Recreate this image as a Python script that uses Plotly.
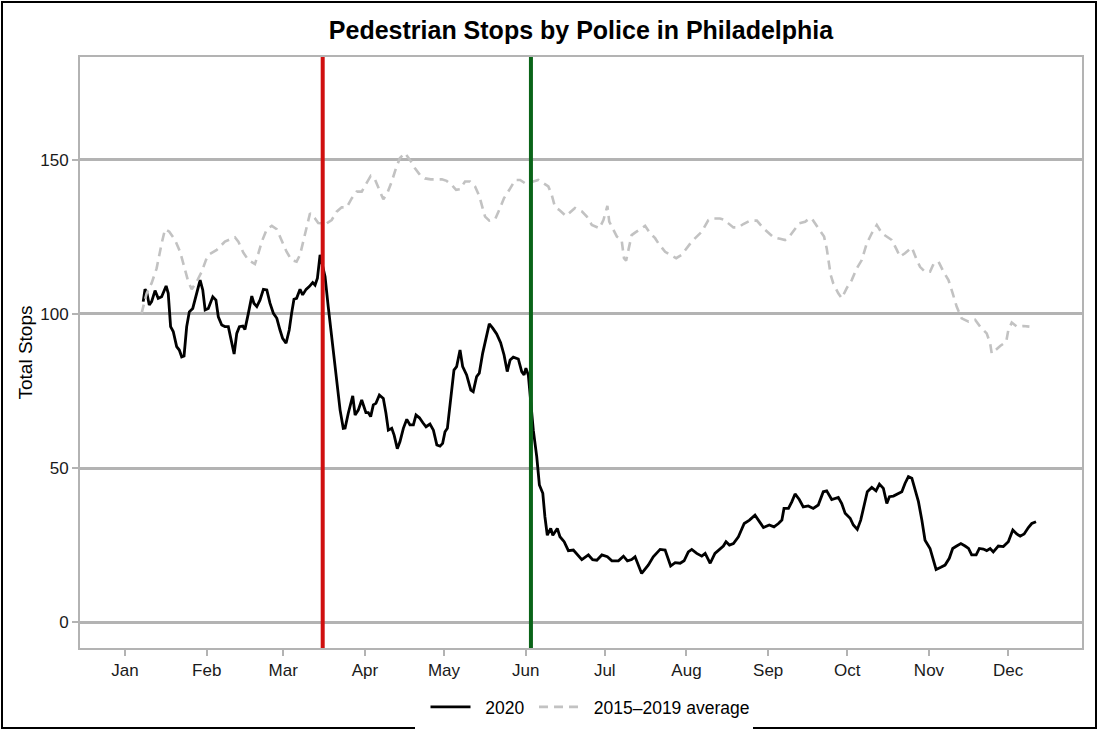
import pandas as pd
import plotly.graph_objects as go

# ---------------- data ----------------
# day offsets from 2020-01-01 and 7-day average stop counts
days_2020 = [6.9, 7.6, 8.2, 9.2, 10.1, 11.4, 12.6, 13.9, 15.6, 16.4, 17.3, 18.3, 19.6, 20.6, 21.5, 22.4,
             23.4, 24.4, 25.7, 27.2, 28.5, 29.5, 30.4, 31.6, 33.3, 34.5, 35.4, 36.7, 37.9, 39.2, 40.5,
             41.4, 42.4, 43.4, 44.7, 45.5, 46.8, 48.1, 48.9, 50.0, 51.2, 52.5, 53.8, 55.0, 56.3, 57.6,
             58.8, 59.8, 61.1, 62.3, 63.2, 64.1, 65.1, 66.4, 67.4, 68.7, 69.9, 71.2, 72.1, 73.0, 74.0,
             75.9, 77.1, 78.4, 79.7, 80.5, 81.6, 82.8, 83.5, 84.7, 86.4, 87.3, 88.5, 89.8, 90.7, 91.4,
             92.3, 93.2, 94.2, 95.2, 96.5, 98.0, 99.0, 99.9, 101.2, 102.1, 103.3, 104.3, 105.6, 106.9,
             108.1, 109.4, 110.4, 111.7, 113.0, 114.2, 115.7, 117.0, 118.3, 119.5, 120.5, 121.4, 122.3,
             123.6, 124.8, 125.8, 127.1, 128.1, 129.6, 131.2, 132.1, 133.4, 134.4, 135.7, 137.0, 138.2,
             139.5, 141.0, 142.5, 143.8, 145.0, 146.1, 147.3, 149.2, 150.5, 151.4, 152.1, 153.0, 154.9,
             156.2, 157.2, 158.5, 159.3, 160.2, 161.5, 162.3, 164.0, 165.0, 166.6, 168.2, 170.1, 171.6,
             173.3, 175.8, 177.4, 179.0, 180.9, 183.0, 184.7, 187.2, 189.1, 190.6, 192.2, 193.5, 196.0,
             198.5, 200.4, 203.0, 204.9, 207.0, 208.7, 210.6, 212.1, 213.7, 215.0, 216.9, 218.8, 220.1,
             222.0, 223.8, 225.5, 227.0, 228.0, 229.3, 230.8, 232.7, 234.9, 236.9, 239.0, 240.7, 242.2,
             244.4, 246.2, 247.9, 249.2, 250.0, 251.7, 253.0, 254.2, 255.8, 257.3, 259.2, 261.1, 263.0,
             264.9, 266.2, 268.1, 270.6, 271.9, 273.2, 275.1, 276.3, 277.8, 279.1, 280.4, 281.6, 283.3,
             284.9, 286.2, 287.7, 289.0, 290.0, 291.5, 293.0, 294.7, 295.9, 297.2, 298.5, 299.7, 301.0,
             302.3, 303.5, 305.4, 306.7, 307.7, 309.5, 311.1, 312.7, 314.0, 315.5, 317.1, 318.7, 320.0,
             321.2, 322.9, 324.1, 325.6, 326.9, 328.2, 329.4, 331.3, 333.2, 335.1, 336.8, 338.3, 339.6,
             341.1, 342.7, 344.0, 345.6]
stops_2020 = [104.0, 108.0, 107.3, 102.9, 104.0, 107.6, 105.1, 105.6, 109.1, 106.7, 95.9, 94.3, 89.4, 88.3,
              86.1, 86.4, 95.9, 100.7, 101.8, 107.2, 111.0, 107.8, 101.3, 101.8, 105.6, 104.5, 99.1, 96.4,
              95.9, 95.9, 90.5, 87.0, 93.7, 95.9, 96.1, 95.0, 100.2, 105.8, 103.5, 102.4, 104.5, 108.0,
              107.8, 103.5, 100.2, 98.6, 94.8, 92.1, 90.5, 94.8, 100.2, 104.8, 105.1, 108.0, 106.2, 108.0,
              108.9, 110.2, 109.4, 111.6, 119.2, 112.1, 102.4, 92.6, 82.9, 78.6, 68.8, 62.9, 63.0, 67.8,
              73.4, 67.2, 68.8, 72.1, 69.9, 68.0, 68.0, 66.7, 70.5, 71.0, 73.7, 72.6, 67.8, 62.3, 62.9,
              60.7, 56.3, 58.5, 62.9, 65.8, 64.0, 64.0, 67.2, 66.3, 64.7, 63.4, 64.3, 62.3, 57.5, 57.1,
              58.0, 61.8, 62.9, 72.1, 81.8, 82.9, 88.3, 82.9, 80.2, 75.3, 74.8, 79.7, 80.8, 87.3, 92.6,
              96.8, 95.4, 93.5, 90.7, 86.7, 81.3, 85.1, 86.0, 85.4, 81.3, 80.2, 82.4, 80.2, 62.3, 53.7,
              44.5, 41.8, 34.2, 28.2, 30.4, 28.2, 30.4, 27.7, 26.1, 23.2, 23.4, 21.8, 20.3, 21.8, 20.3,
              20.1, 21.8, 21.2, 19.9, 19.9, 21.4, 19.9, 20.3, 21.2, 15.8, 18.5, 21.2, 23.6, 23.4, 18.2,
              19.3, 19.1, 19.9, 22.8, 23.6, 22.3, 21.4, 22.3, 19.1, 22.3, 23.6, 24.7, 26.1, 25.0, 25.5,
              27.7, 32.0, 33.1, 34.7, 32.6, 30.7, 31.5, 30.9, 32.0, 33.1, 36.9, 36.9, 39.1, 41.6, 39.8,
              37.4, 37.7, 36.9, 38.0, 42.3, 42.6, 39.8, 40.5, 38.5, 35.3, 33.7, 31.5, 30.1, 33.1, 38.0,
              42.3, 43.7, 42.6, 44.8, 43.4, 38.5, 40.7, 40.9, 41.6, 42.3, 45.0, 47.2, 46.7, 42.9, 39.1,
              33.1, 26.6, 23.9, 20.1, 17.1, 17.8, 18.5, 20.7, 23.9, 24.7, 25.5, 24.7, 23.9, 21.8, 21.8,
              23.9, 23.7, 23.2, 23.9, 22.8, 24.7, 24.5, 26.1, 29.9, 28.6, 27.9, 28.6, 30.7, 32.0, 32.6]

days_avg = [6.3, 8.2, 10.1, 12.0, 13.9, 15.2, 16.8, 19.0, 20.9, 22.4, 24.0, 25.3, 27.2, 29.1, 30.7, 32.2,
            34.8, 36.3, 37.9, 39.8, 41.7, 43.0, 44.9, 46.8, 49.3, 50.6, 51.9, 53.8, 55.7, 57.6, 59.5,
            61.3, 63.2, 65.1, 66.4, 67.6, 68.9, 70.2, 72.1, 73.3, 74.6, 76.5, 78.4, 80.3, 82.2, 84.1,
            86.0, 87.9, 89.8, 91.7, 93.2, 94.9, 96.5, 98.0, 99.5, 101.2, 102.8, 104.3, 106.2, 108.1,
            110.0, 111.9, 113.8, 116.0, 118.3, 120.2, 122.0, 123.9, 125.6, 127.1, 129.0, 130.9, 132.8,
            134.4, 135.7, 136.6, 138.2, 140.4, 142.0, 143.8, 145.8, 148.0, 149.9, 151.8, 154.9, 156.8,
            160.6, 161.9, 163.1, 165.0, 167.3, 168.6, 170.7, 173.3, 175.2, 177.1, 180.0, 181.5, 183.0,
            183.7, 184.7, 186.6, 188.4, 189.3, 190.1, 191.0, 192.2, 193.5, 197.3, 199.2, 201.1, 202.3,
            204.9, 206.8, 209.1, 211.2, 213.1, 215.0, 216.9, 218.8, 221.3, 223.2, 225.7, 227.6, 228.9,
            230.8, 232.7, 234.6, 237.1, 239.7, 242.2, 244.1, 246.0, 248.5, 250.4, 252.0, 253.5, 255.8,
            258.0, 259.6, 260.5, 261.8, 263.7, 265.2, 266.2, 266.8, 267.7, 268.7, 270.6, 271.9, 273.8,
            275.7, 277.6, 279.5, 281.4, 283.3, 285.2, 287.1, 289.0, 290.9, 292.8, 294.0, 295.9, 298.5,
            300.1, 301.6, 303.5, 305.4, 306.7, 308.6, 310.5, 312.4, 314.0, 315.5, 317.4, 320.0, 322.5,
            324.4, 326.9, 328.2, 328.8, 332.0, 334.3, 335.1, 336.4, 338.3, 340.8, 343.1]
stops_avg = [100.2, 106.7, 110.0, 114.8, 122.9, 127.5, 126.7, 124.0, 120.2, 115.3, 110.5, 108.0, 110.5,
             113.7, 117.5, 119.5, 120.8, 122.1, 123.5, 124.2, 124.9, 123.5, 119.9, 117.5, 116.2, 119.7,
             123.5, 127.5, 128.6, 127.5, 123.5, 120.2, 117.5, 117.0, 119.2, 123.5, 128.2, 132.7, 131.0,
             129.5, 129.4, 129.4, 130.5, 133.2, 134.6, 134.6, 137.5, 139.7, 139.7, 142.4, 144.8, 143.5,
             140.3, 137.2, 139.2, 143.0, 147.3, 150.6, 152.2, 150.0, 147.3, 145.1, 144.0, 143.7, 143.7,
             143.7, 143.2, 141.9, 140.3, 140.5, 143.0, 143.0, 141.4, 138.3, 134.3, 131.6, 130.3, 130.7,
             133.8, 137.6, 140.3, 143.5, 143.5, 142.4, 143.0, 143.5, 141.4, 138.6, 134.8, 133.6, 131.8,
             132.7, 134.4, 133.3, 131.6, 128.9, 127.8, 130.5, 135.1, 130.0, 128.4, 125.1, 124.0, 118.1,
             117.3, 120.8, 125.6, 126.4, 128.6, 126.2, 124.6, 123.0, 120.2, 119.2, 118.1, 119.2, 121.4,
             123.5, 125.1, 126.7, 130.5, 131.0, 131.0, 130.5, 129.4, 128.1, 128.1, 129.2, 130.3, 130.3,
             127.8, 126.2, 124.9, 124.4, 124.0, 125.1, 126.7, 129.4, 129.9, 131.0, 131.0, 129.4, 127.3,
             125.1, 121.3, 117.5, 112.7, 109.9, 106.7, 105.1, 108.4, 111.0, 114.8, 117.5, 122.9, 126.2,
             128.9, 126.2, 125.1, 124.0, 120.8, 118.6, 119.7, 121.6, 118.1, 115.3, 113.7, 113.7, 116.2,
             117.0, 113.7, 111.0, 106.7, 102.4, 98.6, 97.5, 98.1, 95.9, 93.7, 90.5, 87.2, 89.6, 91.0,
             94.8, 97.2, 95.9, 96.1, 95.9]

event_dates = ["2020-03-16", "2020-06-03"]
event_colors = ["#d0100f", "#0a6418"]

month_labels = ["Jan", "Feb", "Mar", "Apr", "May", "Jun",
                "Jul", "Aug", "Sep", "Oct", "Nov", "Dec"]
y_ticks = [0, 50, 100, 150]

series_names = ["2020", "2015\u20132019 average"]

# ---------------- figure ----------------
base = pd.Timestamp("2020-01-01")
x2020 = base + pd.to_timedelta(days_2020, unit="D")
xavg = base + pd.to_timedelta(days_avg, unit="D")
month_starts = pd.date_range("2020-01-01", periods=12, freq="MS")

W, H = 1100, 733
L, R, T, B = 80, 1082, 57, 648  # plot area in pixels

FONT = "Liberation Sans, Arial, Helvetica, sans-serif"
GRID = "#b3b3b3"
NB = "\u00a0"

fig = go.Figure()
fig.add_trace(go.Scatter(x=x2020, y=stops_2020, mode="lines",
                         name=NB * 2 + series_names[0] + NB,
                         line=dict(color="black", width=2.8)))
fig.add_trace(go.Scatter(x=xavg, y=stops_avg, mode="lines",
                         name=NB * 2 + series_names[1],
                         line=dict(color="#c2c2c2", width=2.6, dash="9px,6px")))

shapes = []
for d, c in zip(event_dates, event_colors):
    shapes.append(dict(type="line", xref="x", yref="paper", x0=d, x1=d, y0=0, y1=1,
                       line=dict(color=c, width=4), layer="above"))


def px_x(p):
    return (p - L) / (R - L)


def px_y(p):
    return (B - p) / (B - T)


# outer figure border (bottom edge interrupted by the legend box)
bc = dict(color="black", width=2)
shapes += [
    dict(type="line", xref="paper", yref="paper", x0=px_x(2), x1=px_x(2), y0=px_y(2), y1=px_y(728), line=bc),
    dict(type="line", xref="paper", yref="paper", x0=px_x(1096), x1=px_x(1096), y0=px_y(2), y1=px_y(728), line=bc),
    dict(type="line", xref="paper", yref="paper", x0=px_x(1), x1=px_x(1097), y0=px_y(2), y1=px_y(2), line=bc),
    dict(type="line", xref="paper", yref="paper", x0=px_x(1), x1=px_x(415), y0=px_y(728), y1=px_y(728), line=bc),
    dict(type="line", xref="paper", yref="paper", x0=px_x(753), x1=px_x(1097), y0=px_y(728), y1=px_y(728), line=bc),
]

x_lo = base + pd.to_timedelta(-17.07, unit="D")
x_hi = base + pd.to_timedelta(363.05, unit="D")

fig.update_layout(
    width=W, height=H,
    margin=dict(l=L, r=W - R, t=T, b=H - B, autoexpand=False),
    paper_bgcolor="white", plot_bgcolor="white",
    font=dict(family=FONT, color="#1a1a1a", size=17),
    title=dict(text="<b>Pedestrian Stops by Police in Philadelphia</b>",
               x=((L + R) / 2) / W, xref="container", xanchor="center",
               y=1 - 30 / H, yref="container", yanchor="middle",
               font=dict(size=25, color="black", family=FONT)),
    xaxis=dict(type="date", range=[x_lo, x_hi], tickvals=month_starts, ticktext=month_labels,
               showgrid=False, zeroline=False, ticks="outside", ticklen=6, tickwidth=1.5,
               tickcolor=GRID, showline=True, linecolor=GRID, linewidth=2, mirror=True,
               tickfont=dict(size=17, color="#1a1a1a")),
    yaxis=dict(range=[-8.4, 183.4], tickvals=y_ticks, showgrid=True, gridcolor=GRID, gridwidth=2.5,
               zeroline=False, ticks="outside", ticklen=6, tickwidth=1.5, tickcolor=GRID,
               showline=True, linecolor=GRID, linewidth=2, mirror=True,
               tickfont=dict(size=17, color="#1a1a1a"),
               title=dict(text="Total Stops", font=dict(size=19, color="black"), standoff=3)),
    legend=dict(orientation="h", x=px_x(590), xanchor="center", y=px_y(707), yanchor="middle",
                bgcolor="white", font=dict(size=17.5, color="black"), itemwidth=40,
                traceorder="normal"),
    shapes=shapes,
)

fig.write_html("out.html")
